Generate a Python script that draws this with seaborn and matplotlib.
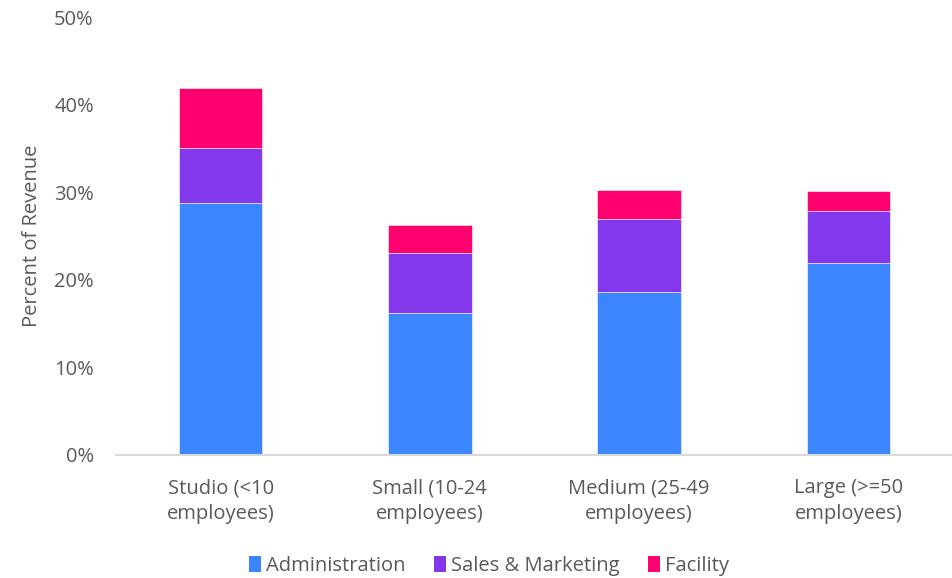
import matplotlib
matplotlib.use("Agg")
import matplotlib.pyplot as plt
from matplotlib.ticker import PercentFormatter
from matplotlib.patches import Patch
import seaborn as sns
import pandas as pd

categories = ["Studio (<10\nemployees)", "Small (10-24\nemployees)",
              "Medium (25-49\nemployees)", "Large (>=50\nemployees)"]
administration = [28.8, 16.2, 18.6, 21.9]
sales_marketing = [6.2, 6.8, 8.3, 6.0]
facility = [6.9, 3.3, 3.4, 2.2]

series_names = ["Administration", "Sales & Marketing", "Facility"]
series_values = [administration, sales_marketing, facility]
colors = ["#3B86FF", "#8338EC", "#FF006E"]

sns.set_theme(style="white")
plt.rcParams["font.family"] = ["Open Sans", "DejaVu Sans"]
text_color = "#595959"
fs = 14.5

fig = plt.figure(figsize=(9.53, 5.78), dpi=100)
ax = fig.add_axes([116 / 953, 1 - 454.5 / 578, 837 / 953, (454.5 - 17.3) / 578])

bottoms = [0.0] * len(categories)
for name, vals, col in zip(series_names, series_values, colors):
    df = pd.DataFrame({"category": categories, "value": vals})
    sns.barplot(data=df, x="category", y="value", color=col, bottom=bottoms,
                width=0.4, ax=ax, edgecolor="white", linewidth=0.4,
                saturation=1, errorbar=None)
    bottoms = [b + v for b, v in zip(bottoms, vals)]

ax.set_xlim(-0.5, 3.5)
ax.set_ylim(0, 50)
ax.set_yticks([0, 10, 20, 30, 40, 50])
ax.yaxis.set_major_formatter(PercentFormatter(decimals=0))
ax.set_xlabel("")
ax.set_ylabel("Percent of Revenue", fontsize=fs, color=text_color, labelpad=9)
ax.tick_params(axis="both", length=0, labelsize=fs, labelcolor=text_color)
ax.tick_params(axis="x", pad=17)
ax.tick_params(axis="y", pad=16)
for lbl in ax.get_xticklabels():
    lbl.set_linespacing(1.4)

for side in ["top", "right", "left"]:
    ax.spines[side].set_visible(False)
ax.spines["bottom"].set_color("#D9D9D9")
ax.spines["bottom"].set_linewidth(1.5)
ax.grid(False)

handles = [Patch(facecolor=c, edgecolor="none") for c in colors]
fig.legend(handles, series_names, loc="center", bbox_to_anchor=(489 / 953, 1 - 566 / 578),
           ncol=3, frameon=False, fontsize=fs, labelcolor=text_color,
           handlelength=0.6, handleheight=0.8, handletextpad=0.25, columnspacing=1.4)

fig.savefig("out.png", dpi=100)
